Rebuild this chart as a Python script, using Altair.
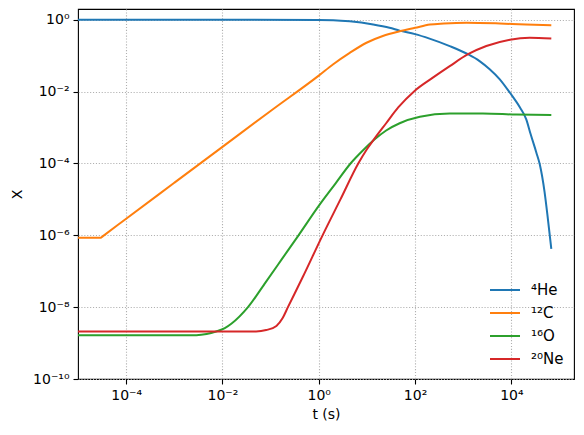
import altair as alt
import pandas as pd

species = ["⁴He", "¹²C", "¹⁶O", "²⁰Ne"]
colors = ["#1f77b4", "#ff7f0e", "#2ca02c", "#d62728"]

he_t = [1e-5, 1.0, 2.0, 4.4, 13.5, 29.5, 47.9, 100, 200, 525, 1259, 2188, 3548,
        5754, 9333, 1.51e4, 2.04e4, 2.51e4, 3.31e4, 3.89e4, 4.9e4, 5.75e4, 6.76e4]
he_x = [1.0, 0.995, 0.98, 0.91, 0.74, 0.60, 0.50, 0.40, 0.30, 0.186, 0.11, 0.071,
        0.042, 0.022, 0.0093, 0.0036, 0.0017, 6.6e-4, 2.0e-4, 9.5e-5, 1.6e-5, 2.8e-6, 4.2e-7]

c_t = [1e-5, 2.95e-5, 3.3e-5, 1e-4, 1e-3, 1e-2, 0.1, 1.0, 2.0, 4.4, 9.8, 21.4, 47.9, 100,
       204, 398, 1175, 5750, 2.0e4, 6.76e4]
c_x = [8.5e-7, 8.5e-7, 9.5e-7, 2.9e-6, 2.9e-5, 2.9e-4, 2.9e-3, 0.028, 0.058, 0.12, 0.23,
       0.355, 0.48, 0.60, 0.74, 0.79, 0.83, 0.79, 0.74, 0.71]

o_t = [1e-5, 2.88e-3, 4.68e-3, 7.41e-3, 0.0112, 0.0155, 0.0339, 0.0794, 0.174, 0.380,
       1.0, 2.24, 4.57, 8.32, 14.5, 25.1, 47.9, 126, 525, 2570, 1.26e4, 6.76e4]
o_x = [1.66e-9, 1.66e-9, 1.78e-9, 2.1e-9, 2.6e-9, 3.5e-9, 1e-8, 5e-8, 2.24e-7, 1e-6,
       6.6e-6, 2.8e-5, 1e-4, 2.34e-4, 4.7e-4, 8.3e-4, 1.32e-3, 2.0e-3, 2.45e-3, 2.45e-3,
       2.3e-3, 2.24e-3]

ne_t = [1e-5, 0.050, 0.081, 0.132, 0.178, 0.229, 0.468, 1.2, 2.82, 6.61, 10, 14.5,
        25.1, 44.7, 97.7, 234, 525, 1259, 3020, 9333, 2.4e4, 6.76e4]
ne_x = [2.1e-9, 2.1e-9, 2.3e-9, 3.0e-9, 5.0e-9, 1e-8, 7.0e-8, 1e-6, 1e-5, 1e-4,
        2.5e-4, 5.0e-4, 1.32e-3, 3.63e-3, 0.0105, 0.0245, 0.0513, 0.11, 0.186, 0.28,
        0.316, 0.30]

x_ticks = [1e-4, 1e-2, 1, 1e2, 1e4]
y_ticks = [1e-10, 1e-8, 1e-6, 1e-4, 1e-2, 1]

rows = []
for name, ts, xs in zip(species, [he_t, c_t, o_t, ne_t], [he_x, c_x, o_x, ne_x]):
    for t, x in zip(ts, xs):
        rows.append({"t": t, "X": x, "species": name})
df = pd.DataFrame(rows)

sup = "['⁰','¹','²','³','⁴','⁵','⁶','⁷','⁸','⁹','¹⁰']"
label_expr = ("'10' + (round(log(datum.value)/LN10) < 0 ? '⁻' : '') + "
              + sup + "[abs(round(log(datum.value)/LN10))]")

chart = alt.Chart(df).mark_line(strokeWidth=2, clip=True, interpolate="monotone").encode(
    x=alt.X("t:Q", title="t (s)",
            scale=alt.Scale(type="log", domain=[1e-5, 2e5], nice=False),
            axis=alt.Axis(values=x_ticks, labelExpr=label_expr, grid=True,
                          titlePadding=5)),
    y=alt.Y("X:Q", title="X",
            scale=alt.Scale(type="log", domain=[1e-10, 2], nice=False),
            axis=alt.Axis(values=y_ticks, labelExpr=label_expr, grid=True,
                          titlePadding=8)),
    color=alt.Color("species:N", sort=species,
                    scale=alt.Scale(domain=species, range=colors),
                    legend=alt.Legend(title=None, orient="none", legendX=411, legendY=273,
                                      symbolType="stroke", symbolSize=900,
                                      symbolStrokeWidth=2, labelFontSize=15,
                                      labelOffset=10, rowPadding=7, clipHeight=16,
                                      labelColor="black")),
).properties(
    width=496, height=370,
    autosize=alt.AutoSizeParams(type="none"),
    padding={"left": 78, "top": 9, "right": 10, "bottom": 56},
).configure(
    font="DejaVu Sans", background="white"
).configure_view(
    stroke="black", strokeWidth=1.1
).configure_axis(
    domain=False, tickColor="black", tickWidth=1.1, tickSize=5,
    labelFontSize=14, labelColor="black", labelPadding=4,
    titleFontSize=14, titleFontWeight="normal", titleColor="black",
    gridColor="#b0b0b0", gridDash=[1.1, 1.8], gridWidth=1.1,
)

chart.save("out.html", embed_options={"renderer": "svg", "actions": False})
